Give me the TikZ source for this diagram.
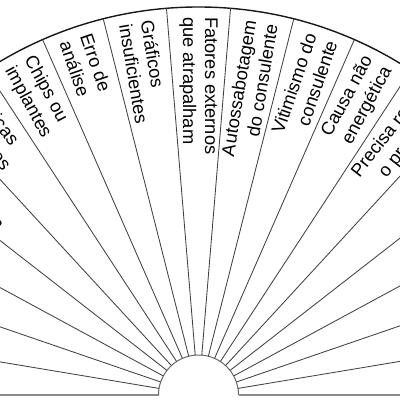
\documentclass[tikz,border=0pt]{standalone}
\usepackage{fontspec}
\setmainfont{Liberation Sans}
\usetikzlibrary{positioning}

\begin{document}
\begin{tikzpicture}[
        rim/.style={
            line width=1pt,
            black!90
        },
        spoke/.style={
            line width=0.6pt,
            black!75
        },
        base/.style={
            line width=1.4pt,
            black!45
        },
        hub/.style={
            line width=0.7pt,
            black!60
        },
        labelin/.style={
            font=\fontsize{13}{15.5}\selectfont,
            inner sep=0pt,
            anchor=west,
            align=left
        },
        labelout/.style={
            font=\fontsize{13}{15.5}\selectfont,
            inner sep=0pt,
            anchor=east,
            align=right
        }
    ]

    \useasboundingbox (-4.9625,-0.125) rectangle (5.0375,9.875);

    % base line, hub and rim
    \draw[base] (-9.7,0) -- (-1,0);
    \draw[base] (1,0) -- (9.7,0);
    \draw[hub] (1,0) arc[start angle=0, end angle=180, radius=1];
    \draw[rim] (9.7,0) arc[start angle=0, end angle=180, radius=9.7];

    % spokes
    \foreach \k in {1,...,18}
        \draw[spoke] ({\k*180/19}:1) -- ({\k*180/19}:9.7);

    % left half: text reads towards the hub
    \node[labelin, rotate={-4.5*180/19}] (desequilibrio)
        at ({180-4.5*180/19}:9.45) {Energia\\desequilibrada};
    \node[labelin, rotate={-5.5*180/19}] (praticas)
        at ({180-5.5*180/19}:9.45) {Práticas\\anteriores};
    \node[labelin, rotate={-6.5*180/19}] (chips)
        at ({180-6.5*180/19}:9.45) {Chips ou\\implantes};
    \node[labelin, rotate={-7.5*180/19}] (erro)
        at ({180-7.5*180/19}:9.45) {Erro de\\análise};
    \node[labelin, rotate={-8.5*180/19}] (graficos)
        at ({180-8.5*180/19}:9.45) {Gráficos\\insuficientes};
    \node[labelin, rotate=-90] (fatores)
        at (90:9.45) {Fatores externos\\que atrapalham};

    % right half: text reads towards the rim
    \node[labelout, rotate={180-10.5*180/19}] (autossabotagem)
        at ({180-10.5*180/19}:9.45) {Autossabotagem\\do consulente};
    \node[labelout, rotate={180-11.5*180/19}] (vitimismo)
        at ({180-11.5*180/19}:9.45) {Vitimismo do\\consulente};
    \node[labelout, rotate={180-12.5*180/19}] (causa)
        at ({180-12.5*180/19}:9.45) {Causa não\\energética};
    \node[labelout, rotate={180-13.5*180/19}] (precisa)
        at ({180-13.5*180/19}:9.45) {Precisa rever\\o problema};

\end{tikzpicture}
\end{document}
